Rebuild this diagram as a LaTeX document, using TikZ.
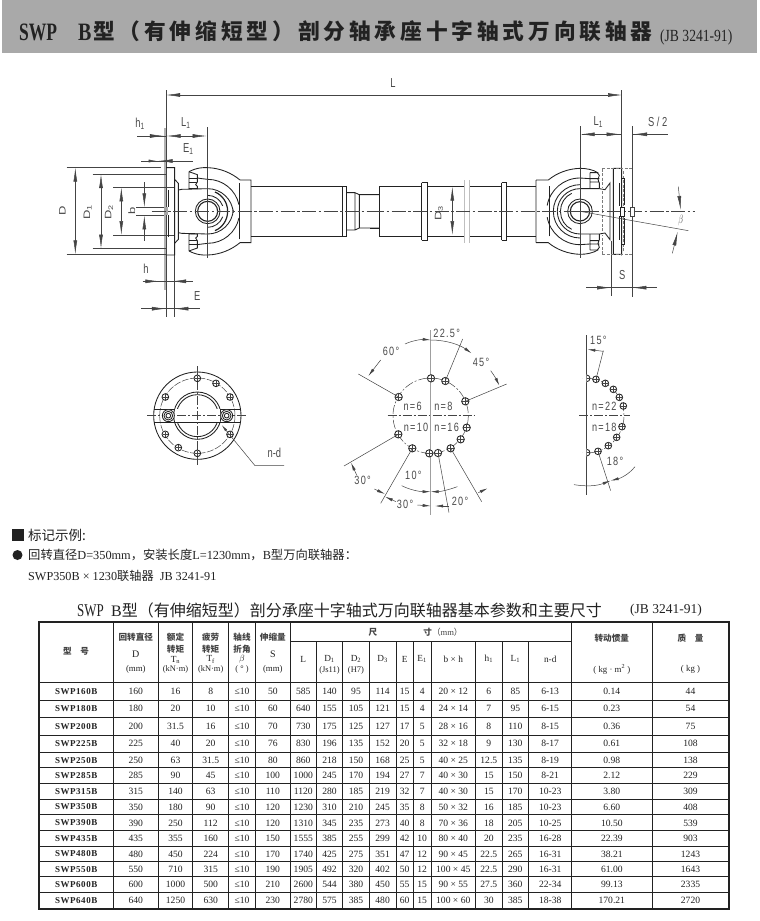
\documentclass[tikz,border=0pt]{standalone}
\usepackage{fontspec}
\usetikzlibrary{arrows.meta}
\setmainfont{Liberation Serif}
\newfontfamily\cjk{Noto Sans CJK SC}
\newfontfamily\cjkw[LetterSpace=18]{Noto Sans CJK SC}
\newfontfamily\lab{Liberation Sans}
\newfontfamily\labw[LetterSpace=14]{Liberation Sans}
\definecolor{ink}{HTML}{222222}
\definecolor{dimc}{HTML}{444444}
\definecolor{labc}{HTML}{4A4A4A}
\definecolor{bar}{HTML}{A9A9A9}
\tikzset{
  mainl/.style={draw=ink,line width=.85pt},
  thinl/.style={draw=dimc,line width=.5pt},
  ctrl/.style={draw=dimc,line width=.5pt,dash pattern=on 14pt off 2.5pt on 2.5pt off 2.5pt},
  dashl/.style={draw=dimc!70,line width=.4pt,dash pattern=on 3pt off 1.5pt},
  grayl/.style={draw=gray!70,line width=2pt},
  dimar/.style={draw=dimc,line width=.5pt,{Latex[length=14pt,width=3.8pt]}-{Latex[length=14pt,width=3.8pt]}},
  tipe/.style={draw=dimc,line width=.5pt,-{Latex[length=14pt,width=3.8pt]}},
  tips/.style={draw=dimc,line width=.5pt,-{Latex[length=8pt,width=3pt]}},
  dlab/.style={font=\lab\fontsize{13}{13}\selectfont,text=labc,inner sep=0pt,xscale=.72},
  alab/.style={font=\labw\fontsize{12}{12}\selectfont,text=labc,inner sep=0pt,xscale=.76},
  cellt/.style={font=\fontsize{9.6}{11}\selectfont,text=ink,inner sep=0pt},
  headc/.style={font=\cjk\bfseries\fontsize{8.6}{10}\selectfont,text=ink!85,inner sep=0pt},
  headl/.style={font=\fontsize{9.3}{10}\selectfont,text=ink,inner sep=0pt},
  rule/.style={draw=ink,line width=.9pt},
}
\newcommand\colx[1]{\ifcase#1\or 76.2\or 135.8\or 175.5\or 210.7\or 242\or 272.8\or 303.3\or 329.5\or 356\or 382.6\or 404.6\or 422.2\or 453.3\or 488.8\or 515.3\or 550.2\or 611.8\or 690.5\fi}
\newcommand\boltc[3]{\draw[mainl,fill=white] (#1,#2) circle[radius=#3];\draw[thinl] (#1-#3,#2)--(#1+#3,#2) (#1,#2-#3)--(#1,#2+#3);}
\begin{document}
\begin{tikzpicture}[x=1pt,y=-1pt]
\useasboundingbox (0,0) rectangle (760,921);
\fill[white] (0,0) rectangle (760,921);
% ---------- title bar
\fill[bar] (2,0) rectangle (757,53);
\node[inner sep=0pt,anchor=base west,xscale=.7,font=\bfseries\fontsize{25}{25}\selectfont,text=ink] (t1) at (19,40) {SWP};
\node[inner sep=0pt,anchor=base west,xscale=.8,font=\bfseries\fontsize{25}{25}\selectfont,text=ink] (t2) at (78,40) {B};
\node[inner sep=0pt,anchor=base west,font=\cjkw\bfseries\fontsize{21.7}{22}\selectfont,text=ink] (t3) at (93,39) {型（有伸缩短型）剖分轴承座十字轴式万向联轴器};
\node[inner sep=0pt,anchor=base west,xscale=.8,font=\fontsize{17}{17}\selectfont,text=ink] (t4) at (660,41) {(JB 3241-91)};
% ---------- main assembly, left half
\begin{scope}[shift={(40,90)},x=.33333pt,y=-.33333pt]
  % extension and dimension lines
  \draw[grayl,draw=gray!60] (375,115)--(375,600);
  \draw[thinl,draw=dimc,line width=.8pt] (378,0)--(378,680);
  \draw[thinl] (403,495)--(403,680) (503,112)--(503,233);
  \draw[thinl] (80,233)--(362,233) (80,493)--(378,493) (158,252)--(378,252) (158,476)--(378,476)
     (220,292)--(404,292) (220,435)--(404,435) (288,352)--(372,352) (288,376)--(372,376);
  \draw[dimar] (106,233)--(106,493);
  \draw[dimar] (183,252)--(183,476);
  \draw[dimar] (244,292)--(244,435);
  \draw[tipe] (313,277)--(313,352);
  \draw[tipe] (313,452)--(313,376);
  \draw[thinl] (292,138)--(378,138);
  \draw[tipe] (322,138)--(372,138);
  \draw[dimar] (380,138)--(500,138);
  \draw[thinl] (303,213)--(460,213);
  \draw[tips] (330,213)--(350,213);
  \draw[tipe] (425,213)--(356,213);
  \draw[thinl] (308,574)--(460,574);
  \draw[tipe] (318,574)--(358,574);
  \draw[tipe] (436,574)--(396,574);
  \draw[thinl] (303,656)--(480,656);
  \draw[tipe] (330,656)--(378,656);
  \draw[tipe] (452,656)--(403,656);
  % both halves of the flange, yoke and shaft
  \foreach \s in {1,-1}{
  \begin{scope}[shift={(0,364)},yscale=\s]
    \draw[mainl] (378,-131)--(404,-131)--(404,-96)--(415,-84)--(415,0) (404,-96)--(404,0);
    \draw[mainl] (415,-64)--(425,-66)--(503,-68);
    \draw[mainl] (447,-119) .. controls (470,-131) and (490,-132) .. (503,-131) .. controls (540,-130) and (575,-115) .. (600,-94)--(633,-94)--(633,0);
    \draw[mainl] (597,-84)--(597,0);
    \draw[mainl] (633,-76)--(907,-76) (907,-76)--(920,-76)--(920,0) (907,-76)--(907,0);
    \draw[mainl] (920,-56)--(945,-56)--(958,-50)--(1020,-50) (945,-56)--(945,0) (958,-50)--(958,0);
    \draw[mainl] (447,-119)--(447,-68)--(472,-68)--(472,-75)--(467,-80)--(472,-88)--(472,-110)--(447,-119);
    \draw[mainl] (447,-100)--(470,-100) (447,-88)--(470,-88);
    \draw[mainl] (472,-100) .. controls (485,-98) and (495,-97) .. (503,-96);
    \draw[mainl] (503,-96) arc[start angle=-90,end angle=-12,radius=96];
    \draw[mainl] (503,-68) arc[start angle=-90,end angle=-3,radius=77];
    \draw[mainl,line width=1.2pt] (525,-58) arc[start angle=-67,end angle=0,radius=62];
    \draw[mainl] (503,-48) arc[start angle=-90,end angle=-20,radius=48];
  \end{scope}}
  \fill[gray!70] (372,352) rectangle (385,376);
  \draw[ink,line width=1pt] (385,300)--(385,352) (385,376)--(385,440);
  \draw[ctrl] (335,364)--(1020,364);
  \draw[thinl] (503,233)--(503,503);
  \draw[mainl,fill=white] (503,364) circle[radius=37];
  \draw[mainl,line width=1.1pt] (503,364) circle[radius=30];
  \draw[ctrl] (465,364)--(545,364);
  \draw[thinl] (503,320)--(503,410);
  \node[dlab,rotate=90] at (67,362) {D};
  \node[dlab,rotate=90] at (143,367) {D\textsubscript{1}};
  \node[dlab,rotate=90] at (207,367) {D\textsubscript{2}};
  \node[dlab,rotate=90] at (275,362) {b};
  \node[dlab] at (300,102) {h\textsubscript{1}};
  \node[dlab] at (437,100) {L\textsubscript{1}};
  \node[dlab] at (445,178) {E\textsubscript{1}};
  \node[dlab] at (318,537) {h};
  \node[dlab] at (472,618) {E};
\end{scope}
% L dimension across the whole shaft
\draw[dimar] (166,95)--(622,95);
\node[dlab] at (393,83) {L};
% ---------- main assembly, right half
\begin{scope}[shift={(370,90)},x=.33333pt,y=-.33333pt]
  \draw[thinl,line width=.8pt] (755,0)--(755,235);
  \draw[grayl,draw=gray!60,line width=.8pt] (755,235)--(755,497);
  \draw[thinl,line width=.7pt] (787,108)--(787,620) (723,452)--(723,618) (630,108)--(630,235);
  \draw[thinl] (635,133)--(755,133);
  \draw[tipe] (680,133)--(632,133);
  \draw[tipe] (700,133)--(752,133);
  \draw[thinl] (787,133)--(893,133);
  \draw[tipe] (835,133)--(789,133);
  \draw[thinl] (648,593)--(862,593);
  \draw[tipe] (675,593)--(723,593);
  \draw[tipe] (835,593)--(787,593);
  \foreach \s in {1,-1}{
  \begin{scope}[shift={(0,364)},yscale=\s]
    \draw[mainl] (1,-51)--(28,-51) (28,-76)--(155,-76) (172,-76)--(283,-76) (297,-76)--(395,-76) (410,-76)--(498,-76);
    \draw[mainl] (28,-76)--(28,0) (155,-86)--(172,-86)--(172,0) (155,-86)--(155,0) (395,-86)--(410,-86)--(410,0) (395,-86)--(395,0);
    \draw[mainl] (498,-94)--(498,0) (498,-94)--(535,-94) .. controls (560,-115) and (595,-128) .. (630,-129) .. controls (650,-129) and (670,-125) .. (685,-115);
    \draw[mainl] (537,-75)--(537,0);
    \draw[mainl] (630,-100) arc[start angle=-90,end angle=-170,radius=100];
    \draw[mainl] (630,-80) arc[start angle=-90,end angle=-180,radius=80];
    \draw[mainl] (630,-68) arc[start angle=-90,end angle=-180,radius=68];
    \draw[mainl] (605,-54) arc[start angle=-115,end angle=-180,radius=58];
    \draw[mainl] (630,-100)--(660,-98) (630,-68)--(688,-68);
    \draw[mainl] (660,-116)--(660,-68) (660,-116)--(682,-116)--(688,-108)--(684,-96)--(688,-85)--(688,-68) (660,-98)--(688,-98) (660,-88)--(688,-88);
    \draw[mainl] (688,-68)--(705,-65)--(720,-85)--(720,0) (730,-129)--(755,-129)--(755,0) (730,-129)--(730,0);
    \draw[dashl] (697,-128)--(787,-128) (697,-128)--(697,-70) (697,-60)--(697,0) (760,-120)--(760,-15);
    \draw[mainl] (748,-85)--(748,-15) (755,-100)--(762,-100)--(762,-20);
  \end{scope}}
  \draw[thinl,draw=gray!50,line width=.7pt] (283,270)--(283,460) (297,270)--(297,460);
  \draw[ctrl] (0,364)--(975,364);
  \draw[thinl] (630,235)--(630,505);
  \draw[mainl,fill=white] (630,364) circle[radius=37];
  \draw[mainl,line width=1.1pt] (630,364) circle[radius=29];
  \draw[thinl] (630,320)--(630,410) (590,364)--(670,364);
  \draw[mainl,fill=white] (750,352) rectangle (762,378);
  \draw[thinl,fill=white] (782,352) rectangle (794,378);
  \draw[dimar] (247,290)--(247,435);
  \draw[thinl] (630,364)--(955,422);
  \draw[tipe] (925,290)--(932,360);
  \draw[tipe] (907,490)--(923,425);
  \node[dlab,rotate=90] at (207,370) {D\textsubscript{3}};
  \node[dlab] at (685,97) {L\textsubscript{1}};
  \node[dlab] at (863,97) {S / 2};
  \node[dlab] at (757,555) {S};
  \node[dlab] at (932,392) {$\beta$};
\end{scope}
% ---------- end view of the flange
\begin{scope}[shift={(110,320)},x=.33333pt,y=-.33333pt]
  \draw[mainl] (262,287) circle[radius=131];
  \draw[thinl,dash pattern=on 7pt off 1.5pt] (262,287) circle[radius=113];
  \draw[mainl] (262,287) circle[radius=71] (262,287) circle[radius=63];
  \draw[mainl] (132,267)--(393,267) (132,307)--(393,307);
  \fill[white] (195,268) rectangle (330,306);
  \draw[ctrl,dash pattern=on 9pt off 2pt on 2pt off 2pt] (112,287)--(412,287) (262,138)--(262,437);
  \foreach \a/\b in {262/175,318/190,360/231,360/343,262/400,205/383,166/343,166/231}{
    \draw[mainl,fill=white] (\a,\b) circle[radius=10];
    \draw[thinl] (\a-8,\b)--(\a+8,\b) (\a,\b-8)--(\a,\b+8);}
  \foreach \a in {175,350}{
    \draw[mainl,fill=white] (\a,287) circle[radius=18];
    \draw[mainl] (\a,287) circle[radius=13] (\a,287) circle[radius=7];}
  \draw[thinl,<-,>={Latex[length=7pt,width=2.6pt]}] (335,315)--(435,437)--(522,437);
  \node[dlab] at (493,400) {n-d};
\end{scope}
% ---------- bolt pattern 1
\begin{scope}[shift={(340,320)},x=.33333pt,y=-.33333pt]
  \draw[thinl,dash pattern=on 9pt off 2pt on 2pt off 2pt] (272,287) circle[radius=113];
  \draw[ctrl,dash pattern=on 9pt off 2pt on 2pt off 2pt] (143,287)--(405,287);
  \draw[draw=gray!75,line width=1pt] (272,30)--(272,585);
  \foreach \a/\b in {273/175,316/183,376/244,380/323,362/358,332/385,294/399,268/400,217/385,175/343,176/231}{\boltc{\a}{\b}{11}}
  \draw[thinl] (176,231)--(55,162) (376,244)--(500,192) (316,183)--(368,57)
     (175,343)--(12,438) (217,385)--(122,550) (294,399)--(327,578) (332,385)--(425,545);
  % angle dimensions
  \draw[tips] (122,120)--(85,168);
  \draw[thinl,-{Latex[length=8pt,width=3pt]}] (195,72) .. controls (220,60) and (250,58) .. (272,60);
  \draw[thinl,-{Latex[length=8pt,width=3pt]}] (272,60) .. controls (320,60) and (360,75) .. (395,100);
  \draw[tips] (452,152) .. controls (462,165) and (470,180) .. (478,197);
  \draw[tips] (50,465)--(33,428);
  \draw[tips] (103,507)--(135,522);
  \draw[tips] (168,545)--(135,530);
  \draw[thinl,-{Latex[length=8pt,width=3pt]}] (185,497) .. controls (210,510) and (240,515) .. (272,515);
  \draw[thinl,-{Latex[length=8pt,width=3pt]}] (352,500) .. controls (325,510) and (300,515) .. (272,515);
  \draw[tips] (232,555)--(272,558);
  \draw[tips] (327,558)--(285,558);
  \draw[tips] (415,518)--(443,505);
  \node[alab] at (153,95) {60°};
  \node[alab] at (320,40) {22.5°};
  \node[alab] at (423,128) {45°};
  \node[alab] at (68,482) {30°};
  \node[alab] at (195,552) {30°};
  \node[alab] at (220,465) {10°};
  \node[alab] at (360,545) {20°};
  \node[alab] at (218,258) {n=6};
  \node[alab] at (310,258) {n=8};
  \node[alab] at (228,322) {n=10};
  \node[alab] at (320,322) {n=16};
% ---------- bolt pattern 2
  \draw[thinl,dash pattern=on 9pt off 2pt on 2pt off 2pt] (740,175) arc[start angle=-90,end angle=90,radius=112];
  \draw[ctrl,dash pattern=on 9pt off 2pt on 2pt off 2pt] (717,287)--(870,287);
  \draw[thinl] (740,45)--(740,525);
  \foreach \a/\b in {740/175,768/178,796/190,820/208,838/232,850/258,846/320,830/352,805/377,774/394,740/398}{\boltc{\a}{\b}{10}}
  \fill[white] (728,163) rectangle (739,187) (728,386) rectangle (739,410);
  \draw[thinl] (768,178)--(790,92) (774,394)--(812,512);
  \draw[tips] (790,94)--(742,88);
  \draw[tips] (702,494) .. controls (740,500) and (770,498) .. (812,482);
  \draw[tips] (885,440) .. controls (865,465) and (840,475) .. (812,482);
  \node[alab] at (775,62) {15°};
  \node[alab] at (825,425) {18°};
  \node[alab] at (793,260) {n=22};
  \node[alab] at (793,322) {n=18};
\end{scope}
% ---------- marking example
\fill[ink] (11.5,529) rectangle (23.5,541);
\node[anchor=west,inner sep=0pt,font=\cjk\fontsize{13.5}{14}\selectfont,text=ink] (m1) at (28,535.5) {标记示例:};
\fill[ink] (17.5,555) circle[radius=5];
\node[anchor=west,inner sep=0pt,font=\cjk\fontsize{12.3}{14}\selectfont,text=ink] (m2) at (28,555) {回转直径{\rmfamily D=350mm}，安装长度{\rmfamily L=1230mm}，{\rmfamily B}型万向联轴器：};
\node[anchor=west,inner sep=0pt,font=\fontsize{12.2}{14}\selectfont,text=ink] (m3) at (28,576) {SWP350B × 1230{\cjk 联轴器}\ \ JB 3241-91};
% ---------- table title
\node[inner sep=0pt,anchor=base west,xscale=.72,font=\fontsize{18}{18}\selectfont,text=ink] (tt1) at (77,616) {SWP};
\node[inner sep=0pt,anchor=base west,font=\fontsize{16}{16}\selectfont\cjk,text=ink] (tt2) at (111,616) {{\rmfamily B}型（有伸缩短型）剖分承座十字轴式万向联轴器基本参数和主要尺寸};
\node[inner sep=0pt,anchor=base west,font=\fontsize{13.5}{14}\selectfont,text=ink] (tt3) at (630,613) {(JB 3241-91)};
% ---------- table rules
\draw[rule,line width=1.1pt] (39,622) rectangle (729,909);
\foreach \yy in {682.7,700,717.7,735,752.7,767.5,783,799,814.7,830.7,846,861.7,876.7,892.7}{\draw[rule] (39,\yy)--(729,\yy);}
\draw[rule] (290.3,641)--(571.7,641);
\foreach \xx in {113.3,158.3,192.7,228.7,255.3,290.3,571.7,652}{\draw[rule] (\xx,622)--(\xx,909);}
\foreach \xx in {316.3,342.7,369.3,396,413.3,431,475.7,502,528.7}{\draw[rule] (\xx,641)--(\xx,909);}
% ---------- table head
\node[headc] at (76,651) {型\quad 号};
\node[headc] at (135.8,637) {回转直径};
\node[headl,font=\fontsize{10}{10}\selectfont] at (135.8,654) {D};
\node[headl,font=\fontsize{8.8}{10}\selectfont] at (135.8,669) {(mm)};
\node[headc] at (175.5,637) {额定};
\node[headc] at (175.5,649) {转矩};
\node[headl] at (175.5,659.5) {T\textsubscript{n}};
\node[headl,font=\fontsize{8.4}{10}\selectfont] at (175.5,669.5) {(kN·m)};
\node[headc] at (210.7,637) {疲劳};
\node[headc] at (210.7,649) {转矩};
\node[headl] at (210.7,659.5) {T\textsubscript{f}};
\node[headl,font=\fontsize{8.4}{10}\selectfont] at (210.7,669.5) {(kN·m)};
\node[headc] at (242,637) {轴线};
\node[headc] at (242,649) {折角};
\node[headl] at (242,659.5) {$\beta$};
\node[headl,font=\fontsize{8.4}{10}\selectfont] at (242,669.5) {( ° )};
\node[headc] at (272.8,637) {伸缩量};
\node[headl,font=\fontsize{10}{10}\selectfont] at (272.8,654) {S};
\node[headl,font=\fontsize{8.8}{10}\selectfont] at (272.8,669) {(mm)};
\node[headc] at (373,632) {尺};
\node[headc] at (443,632) {寸{\mdseries （{\rmfamily mm}）}};
\node[headl] at (303.3,659) {L};
\node[headl] at (329.5,659) {D\textsubscript{1}};
\node[headl,font=\fontsize{8.5}{10}\selectfont] at (329.5,670) {(Js11)};
\node[headl] at (356,659) {D\textsubscript{2}};
\node[headl,font=\fontsize{8.5}{10}\selectfont] at (356,670) {(H7)};
\node[headl] at (382.6,659) {D\textsubscript{3}};
\node[headl] at (404.6,659) {E};
\node[headl] at (422.2,659) {E\textsubscript{1}};
\node[headl] at (453.3,659) {b × h};
\node[headl] at (488.8,659) {h\textsubscript{1}};
\node[headl] at (515.3,659) {L\textsubscript{1}};
\node[headl] at (550.2,659) {n-d};
\node[headc] at (611.8,638) {转动惯量};
\node[headl,font=\fontsize{8.8}{10}\selectfont] at (611.8,669) {( kg · m\textsuperscript{2} )};
\node[headc] at (690.5,638) {质\quad 量};
\node[headl,font=\fontsize{8.8}{10}\selectfont] at (690.5,669) {( kg )};
% ---------- table body
\foreach \ry/\vals [count=\ri] in {
 691.3/{SWP160B,160,16,8,≤10,50,585,140,95,114,15,4,20 × 12,6,85,6-13,0.14,44},
 708.8/{SWP180B,180,20,10,≤10,60,640,155,105,121,15,4,24 × 14,7,95,6-15,0.23,54},
 726.3/{SWP200B,200,31.5,16,≤10,70,730,175,125,127,17,5,28 × 16,8,110,8-15,0.36,75},
 743.8/{SWP225B,225,40,20,≤10,76,830,196,135,152,20,5,32 × 18,9,130,8-17,0.61,108},
 760.3/{SWP250B,250,63,31.5,≤10,80,860,218,150,168,25,5,40 × 25,12.5,135,8-19,0.98,138},
 775.5/{SWP285B,285,90,45,≤10,100,1000,245,170,194,27,7,40 × 30,15,150,8-21,2.12,229},
 791.2/{SWP315B,315,140,63,≤10,110,1120,280,185,219,32,7,40 × 30,15,170,10-23,3.80,309},
 807/{SWP350B,350,180,90,≤10,120,1230,310,210,245,35,8,50 × 32,16,185,10-23,6.60,408},
 822.9/{SWP390B,390,250,112,≤10,120,1310,345,235,273,40,8,70 × 36,18,205,10-25,10.50,539},
 838.5/{SWP435B,435,355,160,≤10,150,1555,385,255,299,42,10,80 × 40,20,235,16-28,22.39,903},
 854/{SWP480B,480,450,224,≤10,170,1740,425,275,351,47,12,90 × 45,22.5,265,16-31,38.21,1243},
 869.3/{SWP550B,550,710,315,≤10,190,1905,492,320,402,50,12,100 × 45,22.5,290,16-31,61.00,1643},
 884.8/{SWP600B,600,1000,500,≤10,210,2600,544,380,450,55,15,90 × 55,27.5,360,22-34,99.13,2335},
 900.8/{SWP640B,640,1250,630,≤10,230,2780,575,385,480,60,15,100 × 60,30,385,18-38,170.21,2720}}{
  \foreach \v [count=\ci] in \vals {
    \edef\cx{\colx{\ci}}
    \ifnum\ci=1
      \node[cellt,font=\bfseries\fontsize{9}{11}\selectfont] (r\ri c\ci) at (\cx,\ry) {\addfontfeature{LetterSpace=6}\v};
    \else
      \node[cellt] (r\ri c\ci) at (\cx,\ry) {\v};
    \fi
  }
}
\end{tikzpicture}
\end{document}
